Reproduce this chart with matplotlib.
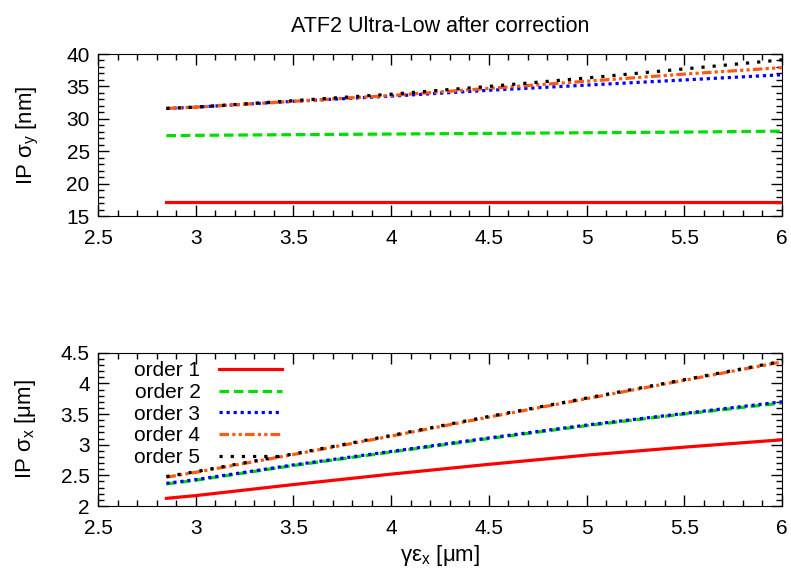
import matplotlib
matplotlib.use('Agg')
import matplotlib.pyplot as plt
from matplotlib.ticker import MultipleLocator, FormatStrFormatter

plt.rcParams['font.family'] = ['Liberation Sans', 'DejaVu Sans']
plt.rcParams['mathtext.fontset'] = 'custom'
plt.rcParams['mathtext.rm'] = 'Liberation Sans'
plt.rcParams['mathtext.it'] = 'Liberation Sans'

# normalised horizontal emittance [um]
emit_x = [2.85, 3.0, 3.5, 4.0, 4.5, 5.0, 5.5, 6.0]

# IP vertical beam size [nm] per order
sy_order1 = [17.2, 17.2, 17.2, 17.2, 17.2, 17.2, 17.2, 17.2]
sy_order2 = [27.4, 27.45, 27.55, 27.65, 27.75, 27.85, 27.95, 28.1]
sy_order3 = [31.6, 31.8, 32.7, 33.5, 34.4, 35.2, 36.0, 36.8]
sy_order4 = [31.6, 31.8, 32.7, 33.6, 34.7, 35.8, 36.9, 37.9]
sy_order5 = [31.6, 31.8, 32.8, 33.8, 35.0, 36.3, 37.7, 39.1]

# IP horizontal beam size [um] per order
sx_order1 = [2.125, 2.17, 2.35, 2.52, 2.68, 2.83, 2.96, 3.08]
sx_order2 = [2.36, 2.42, 2.66, 2.88, 3.10, 3.31, 3.50, 3.68]
sx_order3 = [2.37, 2.43, 2.67, 2.89, 3.11, 3.32, 3.51, 3.70]
sx_order4 = [2.47, 2.55, 2.84, 3.14, 3.45, 3.75, 4.05, 4.35]
sx_order5 = [2.48, 2.56, 2.85, 3.15, 3.46, 3.76, 4.06, 4.36]

labels = ['order 1', 'order 2', 'order 3', 'order 4', 'order 5']
colors = ['#ff0000', '#00dd00', '#0000ff', '#ff5a10', '#000000']
styles = ['-', (0, (3, 1.5)), (0, (1, 1.2)), (0, (3, 1, 1, 1, 1, 1)), (0, (1, 2.5))]
lw = 2.3

fig = plt.figure(figsize=(7.91, 5.71), dpi=100)
ax1 = fig.add_axes([0.1239, 0.6217, 0.8647, 0.2837])
ax2 = fig.add_axes([0.1239, 0.1138, 0.8647, 0.2685])

for ys, lab, c, ls in zip([sy_order1, sy_order2, sy_order3, sy_order4, sy_order5],
                          labels, colors, styles):
    ax1.plot(emit_x, ys, color=c, linestyle=ls, linewidth=lw, label=lab)

for xs, lab, c, ls in zip([sx_order1, sx_order2, sx_order3, sx_order4, sx_order5],
                          labels, colors, styles):
    ax2.plot(emit_x, xs, color=c, linestyle=ls, linewidth=lw, label=lab)

ax1.set_xlim(2.5, 6)
ax1.set_ylim(15, 40)
ax1.yaxis.set_major_locator(MultipleLocator(5))
ax1.yaxis.set_minor_locator(MultipleLocator(1))
ax1.set_ylabel(r'IP $\mathrm{σ}_y$ [nm]', fontsize=16, labelpad=18)
ax1.set_title('ATF2 Ultra-Low after correction', fontsize=15.5, pad=16)

ax2.set_xlim(2.5, 6)
ax2.set_ylim(2, 4.5)
ax2.yaxis.set_major_locator(MultipleLocator(0.5))
ax2.yaxis.set_minor_locator(MultipleLocator(0.1))
ax2.set_ylabel(r'IP $\mathrm{σ}_x$ [μm]', fontsize=16, labelpad=16)
ax2.set_xlabel(r'$\mathrm{γε}_x$ [μm]', fontsize=16, labelpad=4)

for ax in (ax1, ax2):
    ax.xaxis.set_major_locator(MultipleLocator(0.5))
    ax.xaxis.set_minor_locator(MultipleLocator(0.1))
    ax.xaxis.set_major_formatter(FormatStrFormatter('%g'))
    ax.yaxis.set_major_formatter(FormatStrFormatter('%g'))
    ax.tick_params(which='both', direction='in', top=True, right=True, labelsize=15)
    ax.tick_params(which='major', length=8, width=1)
    ax.tick_params(which='minor', length=4, width=1)
    ax.tick_params(axis='x', pad=9)
    ax.tick_params(axis='y', pad=6)

ax2.legend(loc='upper left', frameon=False, markerfirst=False, fontsize=15,
           handlelength=3.0, labelspacing=0.13, borderaxespad=0.2,
           handletextpad=0.9, bbox_to_anchor=(0.035, 1.025))

plt.savefig('out.png', dpi=100)
